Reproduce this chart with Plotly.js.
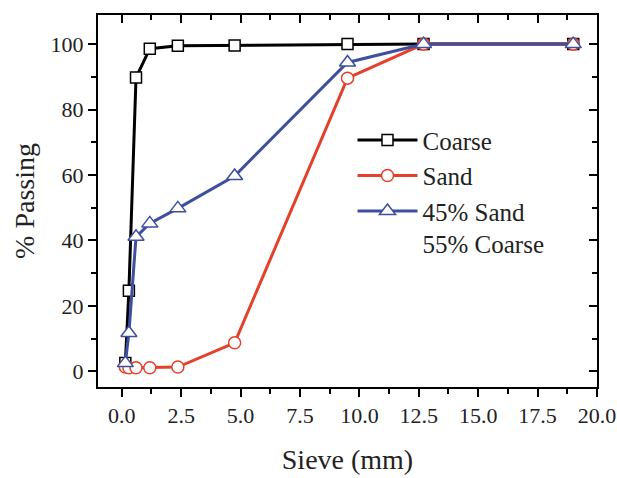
<!DOCTYPE html>
<html>
<head>
<meta charset="utf-8">
<script src="https://cdn.plot.ly/plotly-3.0.1.min.js"></script>
<style>html,body{margin:0;padding:0;background:#fff;}#chart{width:617px;height:478px;}</style>
</head>
<body>
<div id="chart"></div>
<script>
const sieve = [0.15, 0.3, 0.6, 1.18, 2.36, 4.75, 9.5, 12.7, 19.0];
const coarse = [2.5, 24.6, 89.8, 98.6, 99.5, 99.6, 100, 100, 100];
const sand = [1.3, 1.1, 1.1, 1.1, 1.3, 8.7, 89.6, 100, 100];
const blend = [2.5, 11.7, 41.1, 45.2, 49.8, 59.7, 94.4, 100, 100];
const names = ['Coarse', 'Sand', '45% Sand<br>55% Coarse'];

const FONT = 'Liberation Serif';

function series(y, name, color, symbol, size) {
  return {
    x: sieve, y: y, name: name, type: 'scatter', mode: 'lines+markers',
    line: {color: color, width: 3},
    marker: {symbol: symbol, size: size, color: '#ffffff', line: {color: color, width: 1.5}}
  };
}

const traces = [
  series(coarse, names[0], '#000000', 'square', 11),
  series(sand, names[1], '#e5402b', 'circle', 12),
  series(blend, names[2], '#3d4f9e', 'triangle-up', 14),
  {x: [], y: [], xaxis: 'x2', yaxis: 'y2', showlegend: false, type: 'scatter', hoverinfo: 'skip'}
];

const axCommon = {
  showgrid: false, zeroline: false, showline: true, linecolor: '#000', linewidth: 2,
  ticklen: 8, tickwidth: 2, tickcolor: '#000',
  tickfont: {family: FONT, size: 22, color: '#222'}
};

const layout = {
  width: 617, height: 478,
  margin: {l: 98, r: 20, t: 15, b: 91},
  paper_bgcolor: '#fff', plot_bgcolor: '#fff',
  font: {family: FONT, color: '#222'},
  showlegend: true,
  legend: {
    x: 0.51, y: 0.725, xanchor: 'left', yanchor: 'top',
    bgcolor: 'rgba(0,0,0,0)', borderwidth: 0,
    font: {family: FONT, size: 25, color: '#222'},
    valign: 'top', tracegroupgap: 0, itemwidth: 60
  },
  xaxis: Object.assign({}, axCommon, {
    range: [-1, 20], tickmode: 'linear', tick0: 0, dtick: 2.5, ticks: 'outside',
    tickformat: '.1f', mirror: true,
    minor: {ticks: 'outside', dtick: 1.25, tick0: 0, ticklen: 5, tickwidth: 2, tickcolor: '#000'},
    title: {text: 'Sieve (mm)', font: {family: FONT, size: 28, color: '#222'}, standoff: 22}
  }),
  yaxis: Object.assign({}, axCommon, {
    range: [-4.8, 108.9], tickmode: 'linear', tick0: 0, dtick: 20, ticks: 'outside',
    mirror: true,
    minor: {ticks: 'outside', dtick: 10, tick0: 0, ticklen: 5, tickwidth: 2, tickcolor: '#000'},
    title: {text: '% Passing', font: {family: FONT, size: 28, color: '#222'}, standoff: 8}
  }),
  xaxis2: {
    overlaying: 'x', side: 'top', range: [-1, 20], showgrid: false, zeroline: false,
    showline: false, showticklabels: false, tickmode: 'linear', tick0: 0, dtick: 2.5,
    ticks: 'inside', ticklen: 8, tickwidth: 2, tickcolor: '#000',
    minor: {ticks: 'inside', dtick: 1.25, tick0: 0, ticklen: 5, tickwidth: 2, tickcolor: '#000'}
  },
  yaxis2: {
    overlaying: 'y', side: 'right', range: [-4.8, 108.9], showgrid: false, zeroline: false,
    showline: false, showticklabels: false, tickmode: 'linear', tick0: 0, dtick: 20,
    ticks: 'inside', ticklen: 8, tickwidth: 2, tickcolor: '#000',
    minor: {ticks: 'inside', dtick: 10, tick0: 0, ticklen: 5, tickwidth: 2, tickcolor: '#000'}
  }
};

Plotly.newPlot('chart', traces, layout, {displayModeBar: false, staticPlot: true});
</script>
</body>
</html>
